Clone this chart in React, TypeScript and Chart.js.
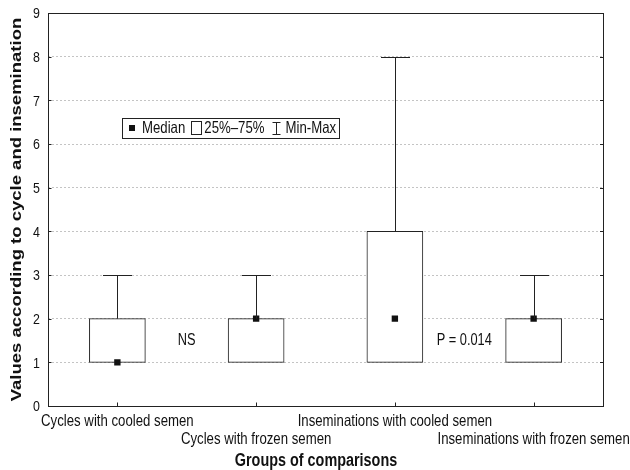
import React, { useEffect, useRef } from "react";
import { Chart, registerables } from "chart.js";

Chart.register(...registerables);

const categories = [
  "Cycles with cooled semen",
  "Cycles with frozen semen",
  "Inseminations with cooled semen",
  "Inseminations with frozen semen",
];
const q1Values = [1, 1, 1, 1];
const q3Values = [2, 2, 4, 2];
const medianValues = [1, 2, 2, 2];
const minValues = [1, 1, 1, 1];
const maxValues = [3, 3, 8, 3];
const yTickLabels = ["0", "1", "2", "3", "4", "5", "6", "7", "8", "9"];
const noteLabels = ["NS", "P = 0.014"];
const noteBetween = [
  [0, 1],
  [2, 3],
];
const noteValues = [1.5, 1.5];

const FONT = "'Liberation Sans', Arial, sans-serif";
const SX = 0.8;

function drawText(
  ctx: CanvasRenderingContext2D,
  s: string,
  x: number,
  y: number,
  font: string,
  align: CanvasTextAlign,
  baseline: CanvasTextBaseline,
  rot = 0
) {
  ctx.save();
  ctx.translate(x, y);
  ctx.scale(SX, 1);
  if (rot) ctx.rotate(rot);
  ctx.font = font;
  ctx.fillStyle = "#111";
  ctx.textAlign = align;
  ctx.textBaseline = baseline;
  ctx.fillText(s, 0, 0);
  ctx.restore();
}

const boxPlugin = {
  id: "boxExtras",
  afterDatasetsDraw(chart: any) {
    const ctx: CanvasRenderingContext2D = chart.ctx;
    const xs = chart.scales.x;
    const ys = chart.scales.y;
    ctx.save();
    ctx.strokeStyle = "#222";
    ctx.lineWidth = 1;
    const cap = 29;
    categories.forEach((_, i) => {
      const x = Math.round(xs.getPixelForValue(i)) + 0.5;
      const yMax = Math.round(ys.getPixelForValue(maxValues[i])) + 0.5;
      const yQ3 = ys.getPixelForValue(q3Values[i]);
      const yMin = Math.round(ys.getPixelForValue(minValues[i])) + 0.5;
      const yQ1 = ys.getPixelForValue(q1Values[i]);
      ctx.beginPath();
      if (maxValues[i] > q3Values[i]) {
        ctx.moveTo(x, yQ3);
        ctx.lineTo(x, yMax);
        ctx.moveTo(x - cap / 2, yMax);
        ctx.lineTo(x + cap / 2, yMax);
      }
      if (minValues[i] < q1Values[i]) {
        ctx.moveTo(x, yQ1);
        ctx.lineTo(x, yMin);
        ctx.moveTo(x - cap / 2, yMin);
        ctx.lineTo(x + cap / 2, yMin);
      }
      ctx.stroke();
    });
    ctx.restore();
  },
  afterDraw(chart: any) {
    const ctx: CanvasRenderingContext2D = chart.ctx;
    const xs = chart.scales.x;
    const ys = chart.scales.y;
    const a = chart.chartArea;
    ctx.save();
    // frame
    ctx.strokeStyle = "#222";
    ctx.lineWidth = 1;
    ctx.strokeRect(a.left + 0.5, a.top + 0.5, a.right - a.left, a.bottom - a.top);
    // inward ticks
    ctx.beginPath();
    yTickLabels.forEach((_, i) => {
      const y = Math.round(ys.getPixelForValue(i)) + 0.5;
      ctx.moveTo(a.right - 3, y);
      ctx.lineTo(a.right + 0.5, y);
      ctx.moveTo(a.left + 0.5, y);
      ctx.lineTo(a.left + 3.5, y);
    });
    categories.forEach((_, i) => {
      const x = Math.round(xs.getPixelForValue(i)) + 0.5;
      ctx.moveTo(x, a.bottom);
      ctx.lineTo(x, a.bottom - 3.5);
    });
    ctx.stroke();

    // y tick labels
    yTickLabels.forEach((t, i) => {
      drawText(ctx, t, a.left - 8, ys.getPixelForValue(i) + 1, `15.5px ${FONT}`, "right", "middle");
    });
    // y title
    drawText(
      ctx,
      "Values according to cycle and insemination",
      17,
      (a.top + a.bottom) / 2,
      `bold 18.5px ${FONT}`,
      "center",
      "middle",
      -Math.PI / 2
    );
    // x labels
    categories.forEach((c, i) => {
      const x = xs.getPixelForValue(i);
      const y = a.bottom + (i % 2 === 0 ? 15 : 33);
      drawText(ctx, c, x, y, `16.5px ${FONT}`, "center", "middle");
    });
    // x title
    drawText(ctx, "Groups of comparisons", 316, a.bottom + 55, `bold 18px ${FONT}`, "center", "middle");

    // annotations
    noteLabels.forEach((n, i) => {
      const [p, q] = noteBetween[i];
      const x = (xs.getPixelForValue(p) + xs.getPixelForValue(q)) / 2;
      const y = ys.getPixelForValue(noteValues[i]);
      drawText(ctx, n, x, y, `16px ${FONT}`, "center", "middle");
    });

    // legend
    const lf = `16.5px ${FONT}`;
    ctx.font = lf;
    const w = (s: string) => ctx.measureText(s).width * SX;
    const ly = 128;
    let lx = 129;
    ctx.fillStyle = "#111";
    ctx.fillRect(lx, ly - 3, 6, 6);
    lx += 6 + 7;
    drawText(ctx, "Median", lx, ly, lf, "left", "middle");
    ctx.font = lf;
    lx += w("Median") + 6;
    ctx.strokeStyle = "#222";
    ctx.strokeRect(Math.round(lx) + 0.5, ly - 6.5, 10, 13);
    lx += 10 + 3;
    drawText(ctx, "25%\u201375%", lx, ly, lf, "left", "middle");
    ctx.font = lf;
    lx += w("25%\u201375%") + 8;
    const ix = Math.round(lx + 4) + 0.5;
    ctx.beginPath();
    ctx.moveTo(ix - 4, ly - 5.5);
    ctx.lineTo(ix + 4, ly - 5.5);
    ctx.moveTo(ix, ly - 5.5);
    ctx.lineTo(ix, ly + 6.5);
    ctx.moveTo(ix - 4, ly + 6.5);
    ctx.lineTo(ix + 4, ly + 6.5);
    ctx.stroke();
    lx += 8 + 5;
    drawText(ctx, "Min-Max", lx, ly, lf, "left", "middle");
    ctx.font = lf;
    lx += w("Min-Max") + 3;
    ctx.strokeRect(122.5, 118.5, Math.round(lx) - 122, 20);
    ctx.restore();
  },
};

export default function App() {
  const ref = useRef<HTMLCanvasElement | null>(null);
  useEffect(() => {
    if (!ref.current) return;
    const chart = new Chart(ref.current, {
      type: "bar",
      data: {
        labels: categories,
        datasets: [
          {
            type: "line",
            label: "Median",
            data: medianValues,
            showLine: false,
            pointStyle: "rect",
            pointRadius: 4.5,
            pointBackgroundColor: "#111",
            pointBorderColor: "#111",
            pointBorderWidth: 0,
            order: 0,
          } as any,
          {
            type: "bar",
            label: "25%-75%",
            data: q1Values.map((v, i) => [v, q3Values[i]]),
            backgroundColor: "#fff",
            borderColor: "#222",
            borderWidth: 1,
            borderSkipped: false,
            barThickness: 56,
            order: 1,
          } as any,
        ],
      },
      options: {
        responsive: false,
        animation: false,
        layout: { padding: { top: 13, right: 27, left: 0, bottom: 0 } },
        plugins: { legend: { display: false }, tooltip: { enabled: false }, title: { display: false } },
        scales: {
          x: {
            type: "category",
            offset: true,
            grid: { display: false },
            border: { display: false },
            ticks: { display: false },
            afterFit: (s: any) => {
              s.height = 64;
            },
          },
          y: {
            min: 0,
            max: 9,
            ticks: { display: false, stepSize: 1 },
            grid: { color: "#c4c4c4", lineWidth: 1, drawTicks: false },
            border: { display: false, dash: [2, 2] },
            afterFit: (s: any) => {
              s.width = 48;
            },
          },
        },
      },
      plugins: [boxPlugin],
    });
    return () => chart.destroy();
  }, []);
  return (
    <div style={{ position: "absolute", left: 0, top: 0, width: 630, height: 470, background: "#fff" }}>
      <canvas ref={ref} width={630} height={470} style={{ width: 630, height: 470, display: "block" }} />
    </div>
  );
}
